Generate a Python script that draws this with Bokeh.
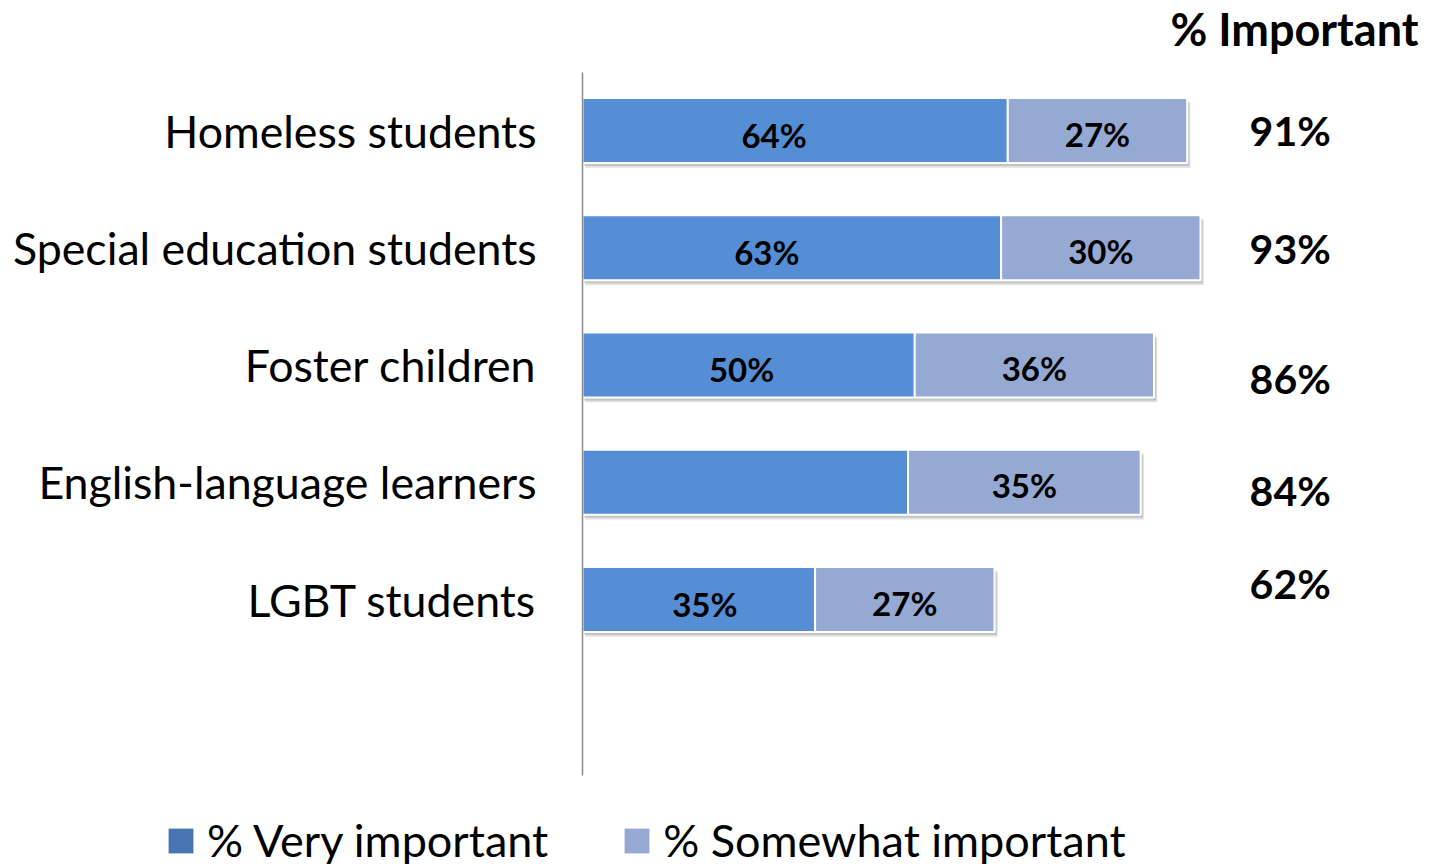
from bokeh.plotting import figure
from bokeh.models import ColumnDataSource, Range1d, FixedTicker, Legend, LegendItem, Label
from bokeh.transform import dodge
from bokeh.core.properties import value
from bokeh.embed import file_html
from bokeh.resources import INLINE

# ---------------- data ----------------
categories = ["Homeless students", "Special education students", "Foster children",
              "English-language learners", "LGBT students"]
very_important = [64, 63, 50, 49, 35]
somewhat_important = [27, 30, 36, 35, 27]
total_important = [91, 93, 86, 84, 62]
very_labels = ["64%", "63%", "50%", "", "35%"]
somewhat_labels = ["27%", "30%", "36%", "35%", "27%"]
total_labels = ["91%", "93%", "86%", "84%", "62%"]
series_names = ["% Very important", "% Somewhat important"]
header = "% Important"

# ---------------- style ----------------
FONT = "Lato"
C_VERY = "#558ED5"
C_SOME = "#95A9D2"
C_VERY_LEG = "#4775B2"
C_SOME_LEG = "#95A9D2"
total_nudge = [0, 1, 13, 8, -16]       # px, vertical nudge of each total label
very_label_nudge = [-21, -25, -7, 0, 6]  # px, horizontal nudge of the in-bar labels

W, H = 1428, 864
PX_PER_PCT = 6.645      # horizontal scale
PX_PER_ROW = 117.27     # vertical scale
X0_PX, Y0_PX = 582, 130  # pixel position of value 0 / first category

pos = list(range(len(categories)))
src = ColumnDataSource(dict(
    y=pos,
    very=very_important,
    some=somewhat_important,
    total=[v + s for v, s in zip(very_important, somewhat_important)],
    very_mid=[v / 2 for v in very_important],
    some_mid=[v + s / 2 for v, s in zip(very_important, somewhat_important)],
    very_lab=very_labels,
    some_lab=somewhat_labels,
    tot_lab=total_labels,
    nudge=total_nudge,
    vnudge=very_label_nudge,
))

x_start = -X0_PX / PX_PER_PCT
y_top = -Y0_PX / PX_PER_ROW
p = figure(width=W, height=H, output_backend="svg", toolbar_location=None,
           x_range=Range1d(x_start, x_start + W / PX_PER_PCT),
           y_range=Range1d(y_top + H / PX_PER_ROW, y_top),
           min_border=0)
p.outline_line_color = None
p.grid.visible = False
p.xaxis.visible = False
p.background_fill_color = "white"
p.border_fill_color = "white"

yax = p.yaxis[0]
yax.fixed_location = 0
yax.bounds = (-0.495, 5.5)
yax.ticker = FixedTicker(ticks=pos)
yax.major_label_overrides = {i: c for i, c in zip(pos, categories)}
yax.major_tick_line_color = None
yax.minor_tick_line_color = None
yax.major_tick_out = 0
yax.major_tick_in = 0
yax.axis_line_color = "#8c8c8c"
yax.axis_line_width = 1.5
yax.major_label_text_font = FONT
yax.major_label_text_font_size = "44.7px"
yax.major_label_text_color = "black"
yax.major_label_standoff = 46

bar_h = 0.555
# soft shadow
p.hbar(y=dodge("y", 0.04, range=p.y_range), left=0.4, right=dodge("total", 0.5, range=p.x_range),
       height=bar_h, source=src, fill_color="black", fill_alpha=0.12, line_color=None)
p.hbar(y=dodge("y", 0.025, range=p.y_range), left=0.2, right=dodge("total", 0.3, range=p.x_range),
       height=bar_h, source=src, fill_color="black", fill_alpha=0.12, line_color=None)

# legend-coloured underlays (fully covered by the bars, they carry the legend swatches)
leg_very = p.hbar(y="y", left=0, right="very", height=bar_h, source=src,
                  fill_color=C_VERY_LEG, line_color=None)
leg_some = p.hbar(y="y", left="very", right="total", height=bar_h, source=src,
                  fill_color=C_SOME_LEG, line_color=None)

p.hbar(y="y", left=0, right="very", height=bar_h, source=src,
       fill_color=C_VERY, line_color="white", line_width=2)
p.hbar(y="y", left="very", right="total", height=bar_h, source=src,
       fill_color=C_SOME, line_color="white", line_width=2)

p.text(x="very_mid", y="y", text="very_lab", source=src, text_align="center",
       text_baseline="middle", text_font=value(FONT), text_font_style="bold",
       text_font_size="33px", text_color="black", x_offset="vnudge", y_offset=4)
p.text(x="some_mid", y="y", text="some_lab", source=src, text_align="center",
       text_baseline="middle", text_font=value(FONT), text_font_style="bold",
       text_font_size="33px", text_color="black", y_offset=3)
p.text(x=106.5, y="y", text="tot_lab", source=src, text_align="center",
       text_baseline="middle", text_font=value(FONT), text_font_style="bold",
       text_font_size="41px", text_color="black", y_offset="nudge")

# header of the totals column (screen units, from the frame's bottom-left)
p.add_layout(Label(x=1418, y=H - 28, x_units="screen", y_units="screen",
                   text=header, text_align="right", text_baseline="middle",
                   text_font=FONT, text_font_size="45px", text_font_style="bold",
                   text_color="black"))

leg = Legend(items=[LegendItem(label=series_names[0], renderers=[leg_very]),
                    LegendItem(label=series_names[1], renderers=[leg_some])],
             orientation="horizontal", location=(165, -3),
             label_text_font=FONT, label_text_font_size="45px", label_text_color="black",
             glyph_width=31, glyph_height=31, label_standoff=11, spacing=73,
             padding=0, margin=0, border_line_color=None, background_fill_alpha=0)
p.add_layout(leg, "center")

open("out.html", "w").write(file_html(p, INLINE))
